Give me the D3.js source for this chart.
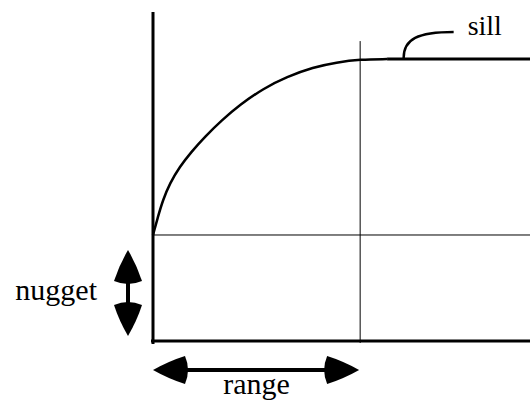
<!DOCTYPE html>
<html>
<head>
<meta charset="utf-8">
<script src="https://cdn.jsdelivr.net/npm/d3@7"></script>
<style>
  body { margin: 0; background: #fff; }
  svg { display: block; }
  text { font-family: "Liberation Serif", "DejaVu Serif", "Times New Roman", Times, serif; }
</style>
</head>
<body>
<div id="viz_variogram"></div>
<script>
// variogram model (lag, semivariance)
var lags  = [0, 0.24, 0.48, 0.81, 1.29, 1.85, 2.50, 3.32, 4.20, 5.33, 6.46, 7.73, 8.86, 10.0, 11.3];
var gamma = [3.76, 4.41, 5.00, 5.59, 6.18, 6.71, 7.24, 7.83, 8.38, 8.96, 9.37, 9.71, 9.88, 9.99, 10.0];

var nugget = 3.76;
var sill = 10;
var range = 10;
var xMax = 18.2;
var yMax = 11.67;
var sillMark = 12.1;                  // where the sill label leader touches
var labels = ['sill', 'nugget', 'range'];

var width_svg = 530;
var height_svg = 400;
var margin = {left: 153, right: 0, top: 12, bottom: 59};

var svg = d3.select('#viz_variogram')
    .append('svg')
    .attr('width', width_svg)
    .attr('height', height_svg);

var x = d3.scaleLinear()
    .domain([0, xMax])
    .range([margin.left, width_svg - margin.right]);

var y = d3.scaleLinear()
    .domain([0, yMax])
    .range([height_svg - margin.bottom, margin.top]);

// thin guide lines for nugget and range
svg.append('line')
    .attr('x1', x(0)).attr('x2', x(xMax))
    .attr('y1', y(nugget)).attr('y2', y(nugget))
    .attr('stroke', '#000').attr('stroke-width', 1);

svg.append('line')
    .attr('x1', x(range)).attr('x2', x(range))
    .attr('y1', y(sill) - 18).attr('y2', y(0) + 2)
    .attr('stroke', '#000').attr('stroke-width', 1);

// axes (plain thick lines, no ticks)
svg.append('line')
    .attr('x1', x(0)).attr('x2', x(0))
    .attr('y1', y(yMax)).attr('y2', y(0) + 3)
    .attr('stroke', '#000').attr('stroke-width', 3);

svg.append('line')
    .attr('x1', x(0) - 2).attr('x2', x(xMax))
    .attr('y1', y(0)).attr('y2', y(0))
    .attr('stroke', '#000').attr('stroke-width', 3);

// model curve
var pts = lags.map(function(d, i) { return [d, gamma[i]]; });
var line = d3.line()
    .x(function(d) { return x(d[0]); })
    .y(function(d) { return y(d[1]); })
    .curve(d3.curveBasis);

svg.append('path')
    .attr('d', line(pts))
    .attr('fill', 'none')
    .attr('stroke', '#000')
    .attr('stroke-width', 2.5);

// sill plateau
svg.append('line')
    .attr('x1', x(lags[lags.length - 1])).attr('x2', x(xMax))
    .attr('y1', y(sill)).attr('y2', y(sill))
    .attr('stroke', '#000').attr('stroke-width', 3);

// sill label with leader
var lx = x(sillMark), ly = y(sill);
svg.append('path')
    .attr('d', 'M' + lx + ',' + (ly - 1) +
               ' C' + lx + ',' + (ly - 20) + ' ' + (lx + 14) + ',' + (ly - 27) + ' ' + (lx + 50) + ',' + (ly - 27))
    .attr('fill', 'none')
    .attr('stroke', '#000')
    .attr('stroke-width', 2.5);

svg.append('text')
    .attr('x', lx + 64)
    .attr('y', ly - 24)
    .attr('font-size', 28)
    .text(labels[0]);

// filled arrow head: tip point, unit direction (towards tip), length, half width
function arrowHead(tx, ty, ux, uy, len, hw) {
    var bx = tx - ux * len, by = ty - uy * len;   // base centre
    var px = -uy, py = ux;                         // perpendicular
    var c1x = bx + px * hw, c1y = by + py * hw;
    var c2x = bx - px * hw, c2y = by - py * hw;
    var bulge = 3;
    var m1x = (tx + c1x) / 2 + px * 2, m1y = (ty + c1y) / 2 + py * 2;
    var m2x = (tx + c2x) / 2 - px * 2, m2y = (ty + c2y) / 2 - py * 2;
    return 'M' + tx + ',' + ty +
           ' Q' + m1x + ',' + m1y + ' ' + c1x + ',' + c1y +
           ' Q' + (bx - ux * bulge * 2) + ',' + (by - uy * bulge * 2) + ' ' + c2x + ',' + c2y +
           ' Q' + m2x + ',' + m2y + ' ' + tx + ',' + ty + 'Z';
}

function doubleArrow(x1, y1, x2, y2, len, hw) {
    var dx = x2 - x1, dy = y2 - y1;
    var l = Math.sqrt(dx * dx + dy * dy);
    var ux = dx / l, uy = dy / l;
    var g = svg.append('g');
    g.append('line')
        .attr('x1', x1 + ux * len).attr('y1', y1 + uy * len)
        .attr('x2', x2 - ux * len).attr('y2', y2 - uy * len)
        .attr('stroke', '#000').attr('stroke-width', 4);
    g.append('path').attr('d', arrowHead(x2, y2, ux, uy, len, hw)).attr('fill', '#000');
    g.append('path').attr('d', arrowHead(x1, y1, -ux, -uy, len, hw)).attr('fill', '#000');
}

// nugget arrow
var nx = x(0) - 25;
doubleArrow(nx, y(nugget) + 15, nx, y(0) - 5, 31, 14);

svg.append('text')
    .attr('x', nx - 31)
    .attr('y', (y(nugget) + y(0)) / 2 + 12)
    .attr('text-anchor', 'end')
    .attr('font-size', 30)
    .text(labels[1]);

// range arrow
var ry = y(0) + 29;
doubleArrow(x(0), ry, x(range) - 1, ry, 32, 14);

svg.append('text')
    .attr('x', (x(0) + x(range)) / 2)
    .attr('y', ry + 24)
    .attr('text-anchor', 'middle')
    .attr('font-size', 30)
    .text(labels[2]);
</script>
</body>
</html>
